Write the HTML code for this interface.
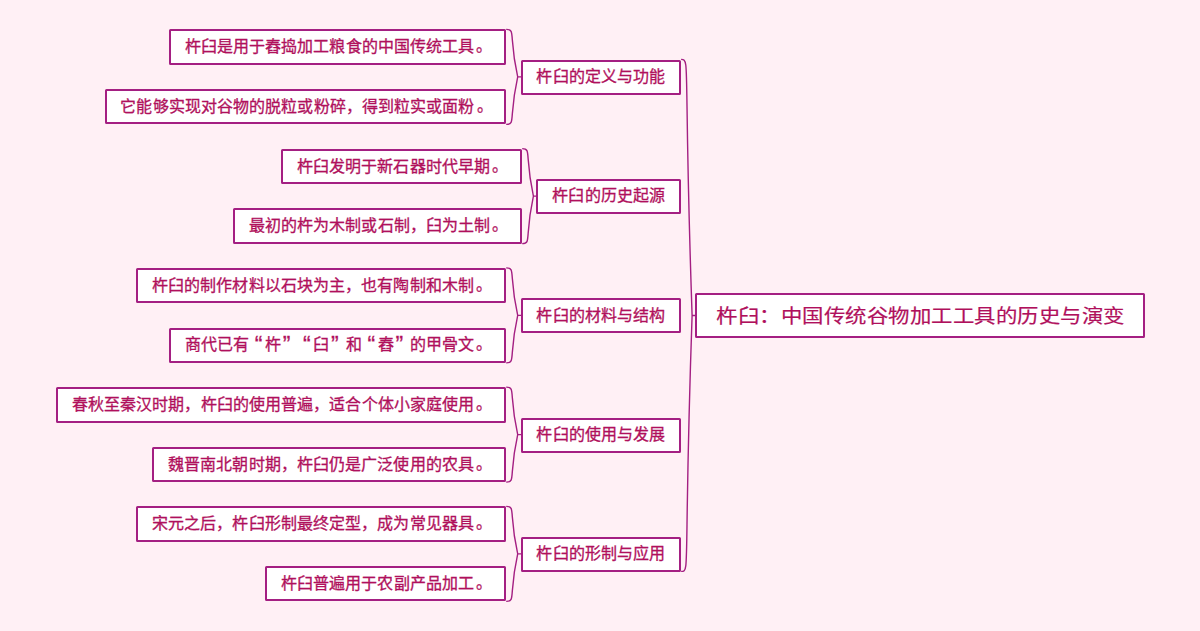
<!DOCTYPE html>
<html lang="zh-CN"><head><meta charset="utf-8"><style>
html,body{margin:0;padding:0;}
body{width:1200px;height:631px;background:#fff0f5;position:relative;overflow:hidden;font-family:"Liberation Sans",sans-serif;}
.b{position:absolute;box-sizing:border-box;border:2px solid #a41f82;background:#fff;border-radius:1.5px;color:#b0105c;display:flex;align-items:center;justify-content:center;white-space:nowrap;font-size:16px;letter-spacing:0.1px;line-height:1;font-weight:400;-webkit-text-stroke:0.3px #b0105c;padding-bottom:1px;}
.r{padding:0;}
.rt{display:inline-block;font-size:21.4px;line-height:1;transform:scaleY(0.9);letter-spacing:0.5px;padding-left:0.5px;-webkit-text-stroke:0.2px #b0105c;position:relative;top:2px;}
.t{position:absolute;text-align:center;white-space:nowrap;font-size:16px;letter-spacing:0.1px;text-indent:0.1px;line-height:16px;height:16px;color:#b0105c;-webkit-text-stroke:0.3px #b0105c;}
.ql,.qr{display:inline-block;box-sizing:border-box;width:16.1px;font-size:23px;line-height:16px;vertical-align:top;height:16px;overflow:visible;}
.pd{position:relative;left:2px;top:-1.5px;}
.ql{text-align:right;padding-right:2.5px;}
.qr{text-align:left;padding-left:1.5px;}
svg{position:absolute;left:0;top:0;}
</style></head><body>

<svg width="1200" height="631" viewBox="0 0 1200 631"><g fill="none" stroke="#a41f82" stroke-width="1.4">
<path d="M506.20,29.40 C515.98,29.40 508.50,35.40 517.70,76.91 M506.20,124.42 C515.98,124.42 508.50,118.42 517.70,76.91 M517.70,76.91 L521.50,76.91"/>
<path d="M522.20,148.64 C531.72,148.64 524.44,154.64 533.40,196.15 M522.20,243.66 C531.72,243.66 524.44,237.66 533.40,196.15 M533.40,196.15 L537.20,196.15"/>
<path d="M506.20,267.88 C515.98,267.88 508.50,273.88 517.70,315.39 M506.20,362.90 C515.98,362.90 508.50,356.90 517.70,315.39 M517.70,315.39 L521.50,315.39"/>
<path d="M506.20,387.12 C515.98,387.12 508.50,393.12 517.70,434.63 M506.20,482.14 C515.98,482.14 508.50,476.14 517.70,434.63 M517.70,434.63 L521.50,434.63"/>
<path d="M506.20,506.36 C515.98,506.36 508.50,512.36 517.70,553.87 M506.20,601.38 C515.98,601.38 508.50,595.38 517.70,553.87 M517.70,553.87 L521.50,553.87"/>
<path d="M681.10,59.41 C690.45,59.41 683.30,59.41 692.10,315.50 M681.10,571.37 C690.45,571.37 683.30,571.37 692.10,315.50 M692.10,315.50 L696.00,315.50"/>
</g></svg>
<div class="b" style="left:520.50px;top:59.81px;width:160.60px;height:35.00px"></div>
<div class="t" style="left:520.50px;top:69px;width:160.60px">杵臼的定义与功能</div>
<div class="b" style="left:169.00px;top:29.40px;width:337.00px;height:35.40px"></div>
<div class="t" style="left:169.00px;top:39px;width:337.00px">杵臼是用于舂捣加工粮食的中国传统工具<span class="pd">。</span></div>
<div class="b" style="left:105.00px;top:89.02px;width:401.00px;height:35.40px"></div>
<div class="t" style="left:105.00px;top:99px;width:401.00px">它能够实现对谷物的脱粒或粉碎，得到粒实或面粉<span class="pd">。</span></div>
<div class="b" style="left:536.20px;top:179.05px;width:144.90px;height:35.00px"></div>
<div class="t" style="left:536.20px;top:188px;width:144.90px">杵臼的历史起源</div>
<div class="b" style="left:281.00px;top:148.64px;width:241.00px;height:35.40px"></div>
<div class="t" style="left:281.00px;top:159px;width:241.00px">杵臼发明于新石器时代早期<span class="pd">。</span></div>
<div class="b" style="left:233.00px;top:208.26px;width:289.00px;height:35.40px"></div>
<div class="t" style="left:233.00px;top:218px;width:289.00px">最初的杵为木制或石制，臼为土制<span class="pd">。</span></div>
<div class="b" style="left:520.50px;top:298.29px;width:160.60px;height:35.00px"></div>
<div class="t" style="left:520.50px;top:308px;width:160.60px">杵臼的材料与结构</div>
<div class="b" style="left:136.00px;top:267.88px;width:370.00px;height:35.40px"></div>
<div class="t" style="left:136.00px;top:278px;width:370.00px">杵臼的制作材料以石块为主，也有陶制和木制<span class="pd">。</span></div>
<div class="b" style="left:169.00px;top:327.50px;width:337.00px;height:35.40px"></div>
<div class="t" style="left:169.00px;top:337px;width:337.00px">商代已有<span class="ql">“</span>杵<span class="qr">”</span><span class="ql">“</span>臼<span class="qr">”</span>和<span class="ql">“</span>舂<span class="qr">”</span>的甲骨文<span class="pd">。</span></div>
<div class="b" style="left:520.50px;top:417.53px;width:160.60px;height:35.00px"></div>
<div class="t" style="left:520.50px;top:427px;width:160.60px">杵臼的使用与发展</div>
<div class="b" style="left:56.00px;top:387.12px;width:450.00px;height:35.40px"></div>
<div class="t" style="left:56.00px;top:397px;width:450.00px">春秋至秦汉时期，杵臼的使用普遍，适合个体小家庭使用<span class="pd">。</span></div>
<div class="b" style="left:152.00px;top:446.74px;width:354.00px;height:35.40px"></div>
<div class="t" style="left:152.00px;top:457px;width:354.00px">魏晋南北朝时期，杵臼仍是广泛使用的农具<span class="pd">。</span></div>
<div class="b" style="left:520.50px;top:536.77px;width:160.60px;height:35.00px"></div>
<div class="t" style="left:520.50px;top:546px;width:160.60px">杵臼的形制与应用</div>
<div class="b" style="left:136.00px;top:506.36px;width:370.00px;height:35.40px"></div>
<div class="t" style="left:136.00px;top:516px;width:370.00px">宋元之后，杵臼形制最终定型，成为常见器具<span class="pd">。</span></div>
<div class="b" style="left:265.00px;top:565.98px;width:241.00px;height:35.40px"></div>
<div class="t" style="left:265.00px;top:576px;width:241.00px">杵臼普遍用于农副产品加工<span class="pd">。</span></div>
<div class="b r" style="left:695.00px;top:293.00px;width:450.00px;height:45.00px"><span class="rt">杵臼：中国传统谷物加工工具的历史与演变</span></div>
</body></html>
